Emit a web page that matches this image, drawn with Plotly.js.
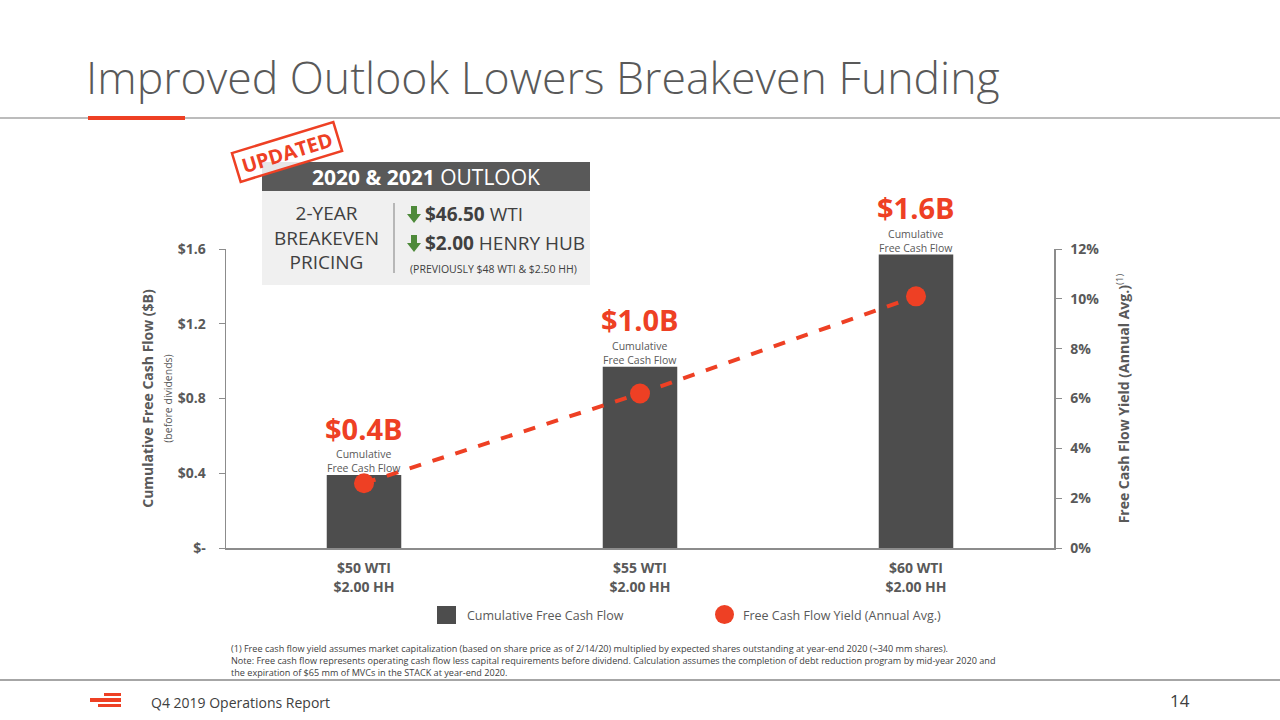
<!DOCTYPE html>
<html>
<head>
<meta charset="utf-8">
<script src="https://cdn.plot.ly/plotly-3.0.1.min.js"></script>
<style>
html,body{margin:0;padding:0;background:#fff;}
#chart{width:1280px;height:720px;}
</style>
</head>
<body>
<div id="chart"></div>
<script>
// ---- data ----
var categories = ['$50 WTI<br>$2.00 HH', '$55 WTI<br>$2.00 HH', '$60 WTI<br>$2.00 HH'];
var cumulativeFCF = [0.39, 0.97, 1.57];          // $B
var fcfYield = [2.6, 6.2, 10.1];                  // % annual avg
var barLabels = ['$0.4B', '$1.0B', '$1.6B'];
var leftTickVals = [0, 0.4, 0.8, 1.2, 1.6];
var leftTickText = ['$-', '$0.4', '$0.8', '$1.2', '$1.6'];
var rightTickVals = [0, 2, 4, 6, 8, 10, 12];
var rightTickText = ['0%', '2%', '4%', '6%', '8%', '10%', '12%'];

// ---- geometry helpers (pixel -> paper) ----
var L = 226, R = 1054, T = 249, B = 548;
function px(x){ return (x - L) / (R - L); }
function py(y){ return (B - y) / (B - T); }

var RED = '#EE4024', BAR = '#4D4D4D', GRAY = '#595959', GREEN = '#4E8A3A', FONT = 'Open Sans, Noto Sans, sans-serif';

var traces = [
  {
    type: 'bar', x: categories, y: cumulativeFCF, name: 'Cumulative Free Cash Flow',
    marker: {color: BAR}, yaxis: 'y', showlegend: false, hoverinfo: 'skip'
  },
  {
    type: 'scatter', mode: 'lines+markers', x: categories, y: fcfYield, yaxis: 'y2',
    name: 'Free Cash Flow Yield (Annual Avg.)',
    line: {color: RED, width: 4, dash: 'dash'},
    marker: {color: RED, size: 20}, showlegend: false, hoverinfo: 'skip'
  }
];

var annotations = [];
for (var i = 0; i < categories.length; i++) {
  annotations.push({
    x: categories[i], y: cumulativeFCF[i], xref: 'x', yref: 'y',
    text: '<b>' + barLabels[i] + '</b>', showarrow: false,
    yanchor: 'middle', yshift: 47, font: {family: FONT, size: 29, color: RED}
  });
  annotations.push({
    x: categories[i], y: cumulativeFCF[i], xref: 'x', yref: 'y',
    text: 'Cumulative<br>Free Cash Flow', showarrow: false,
    yanchor: 'middle', yshift: 14, font: {family: FONT, size: 10.5, color: GRAY}
  });
}

function pa(x, y, text, opts) {
  var a = {xref: 'paper', yref: 'paper', x: px(x), y: py(y), text: text, showarrow: false,
           xanchor: 'left', yanchor: 'middle', font: {family: FONT, size: 13, color: GRAY}};
  for (var k in opts) a[k] = opts[k];
  annotations.push(a);
}

// legend
pa(465, 615, 'Cumulative Free Cash Flow', {font: {family: FONT, size: 12.5, color: GRAY}});
pa(741, 615, 'Free Cash Flow Yield (Annual Avg.)', {font: {family: FONT, size: 12.5, color: GRAY}});

// outlook box text
pa(426, 177, '<b>2020 &amp; 2021</b> OUTLOOK', {xanchor: 'center', font: {family: FONT, size: 21, color: '#FFFFFF'}});
pa(326, 237, '2-YEAR<br>BREAKEVEN<br>PRICING', {xanchor: 'center', font: {family: FONT, size: 19, color: '#404040'}});
pa(423, 214, '<b>$46.50</b> WTI', {font: {family: FONT, size: 19, color: '#404040'}});
pa(423, 243, '<b>$2.00</b> HENRY HUB', {font: {family: FONT, size: 19, color: '#404040'}});
pa(408, 269, '(PREVIOUSLY $48 WTI &amp; $2.50 HH)', {font: {family: FONT, size: 10.5, color: '#404040'}});

// stamp text (border drawn as a rotated path shape below)
var STAMP_CX = 287, STAMP_CY = 152, STAMP_W = 106, STAMP_H = 30, STAMP_ANG = 17;
annotations.push({xref: 'paper', yref: 'paper', x: px(STAMP_CX), y: py(STAMP_CY), showarrow: false,
  text: 'UPDATED', textangle: -STAMP_ANG, font: {family: FONT, size: 20, color: RED, weight: 'bold'},
  xanchor: 'center', yanchor: 'middle'});

// footnotes
var fnFont = {family: FONT, size: 9.1, color: '#404040'};
pa(229, 648, '(1) Free cash flow yield assumes market capitalization (based on share price as of 2/14/20) multiplied by expected shares outstanding at year-end 2020 (~340 mm shares).', {font: fnFont});
pa(229, 660, 'Note: Free cash flow represents operating cash flow less capital requirements before dividend. Calculation assumes the completion of debt reduction program by mid-year 2020 and', {font: fnFont});
pa(229, 672, 'the expiration of $65 mm of MVCs in the STACK at year-end 2020.', {font: fnFont});

// footer
pa(149, 702, 'Q4 2019 Operations Report', {font: {family: FONT, size: 14, color: '#404040'}});
pa(1192, 700, '14', {xanchor: 'right', font: {family: FONT, size: 17, color: '#404040'}});

function toPath(pts) {
  return 'M' + pts.map(function (p) { return px(p[0]) + ',' + py(p[1]); }).join(' L') + ' Z';
}
function arrowPath(cx, top) {
  return toPath([[cx - 3, top], [cx + 3, top], [cx + 3, top + 8], [cx + 7, top + 8], [cx, top + 17],
                 [cx - 7, top + 8], [cx - 3, top + 8]]);
}
function stampPath() {
  var t = STAMP_ANG * Math.PI / 180, c = Math.cos(t), s = Math.sin(t);
  var hw = STAMP_W / 2, hh = STAMP_H / 2;
  var corners = [[-hw, -hh], [hw, -hh], [hw, hh], [-hw, hh]];
  return toPath(corners.map(function (p) {
    return [STAMP_CX + p[0] * c + p[1] * s, STAMP_CY - p[0] * s + p[1] * c];
  }));
}

var shapes = [
  // top rule
  {type: 'line', xref: 'paper', yref: 'paper', x0: px(0), x1: px(1280), y0: py(118), y1: py(118), line: {color: '#A6A6A6', width: 1.5}},
  {type: 'rect', xref: 'paper', yref: 'paper', x0: px(88), x1: px(185), y0: py(116), y1: py(120), fillcolor: RED, line: {width: 0}},
  // footer rule
  {type: 'line', xref: 'paper', yref: 'paper', x0: px(0), x1: px(1280), y0: py(680), y1: py(680), line: {color: '#A6A6A6', width: 2}},
  // logo stripes
  {type: 'rect', xref: 'paper', yref: 'paper', x0: px(104), x1: px(121), y0: py(693), y1: py(696), fillcolor: RED, line: {width: 0}},
  {type: 'rect', xref: 'paper', yref: 'paper', x0: px(90), x1: px(121), y0: py(698), y1: py(702), fillcolor: RED, line: {width: 0}},
  {type: 'rect', xref: 'paper', yref: 'paper', x0: px(98), x1: px(121), y0: py(704), y1: py(707), fillcolor: RED, line: {width: 0}},
  // outlook box
  {type: 'rect', xref: 'paper', yref: 'paper', x0: px(262), x1: px(590), y0: py(191), y1: py(285), fillcolor: '#F0F0F0', line: {width: 0}},
  {type: 'rect', xref: 'paper', yref: 'paper', x0: px(262), x1: px(590), y0: py(162), y1: py(191), fillcolor: '#595959', line: {width: 0}},
  {type: 'line', xref: 'paper', yref: 'paper', x0: px(394), x1: px(394), y0: py(203), y1: py(273), line: {color: '#7F7F7F', width: 1}},
  // stamp border
  {type: 'path', xref: 'paper', yref: 'paper', path: stampPath(), fillcolor: 'rgba(255,255,255,0.85)', line: {color: RED, width: 2.5}},
  // green down arrows
  {type: 'path', xref: 'paper', yref: 'paper', path: arrowPath(414, 206), fillcolor: GREEN, line: {width: 0}},
  {type: 'path', xref: 'paper', yref: 'paper', path: arrowPath(414, 235), fillcolor: GREEN, line: {width: 0}},
  // legend markers
  {type: 'rect', xref: 'paper', yref: 'paper', x0: px(437), x1: px(456), y0: py(606), y1: py(624), fillcolor: BAR, line: {width: 0}},
  {type: 'circle', xref: 'paper', yref: 'paper', x0: px(715), x1: px(734), y0: py(605), y1: py(624), fillcolor: RED, line: {width: 0}}
];

var layout = {
  width: 1280, height: 720,
  margin: {l: L, r: 1280 - R, t: T, b: 720 - B, pad: 0},
  paper_bgcolor: '#FFFFFF', plot_bgcolor: '#FFFFFF',
  showlegend: false,
  bargap: 0.73,
  title: {
    text: 'Improved Outlook Lowers Breakeven Funding',
    xref: 'container', yref: 'container', x: 86 / 1280, xanchor: 'left',
    y: 1 - 78 / 720, yanchor: 'middle',
    font: {family: 'Open Sans, sans-serif', size: 44.6, color: GRAY, weight: 300}
  },
  xaxis: {
    type: 'category', showline: true, linecolor: '#8C8C8C', linewidth: 1.5,
    ticks: '', showgrid: false, zeroline: false, ticklabelstandoff: 7,
    tickfont: {family: FONT, size: 14, color: GRAY, weight: 'bold'}
  },
  yaxis: {
    range: [0, 1.6], tickvals: leftTickVals, ticktext: leftTickText,
    showline: true, linecolor: '#8C8C8C', linewidth: 1.5,
    ticks: 'outside', ticklen: 6, tickcolor: '#8C8C8C', ticklabelstandoff: 10,
    showgrid: false, zeroline: false,
    tickfont: {family: FONT, size: 14, color: GRAY, weight: 'bold'},
    title: {text: '<b>Cumulative Free Cash Flow ($B)</b><br><span style="font-size:10.5px">(before dividends)</span>',
            standoff: 2, font: {family: FONT, size: 14, color: GRAY}}
  },
  yaxis2: {
    overlaying: 'y', side: 'right', range: [0, 12], tickvals: rightTickVals, ticktext: rightTickText,
    showline: true, linecolor: '#8C8C8C', linewidth: 1.5,
    ticks: 'outside', ticklen: 6, tickcolor: '#8C8C8C', ticklabelstandoff: 6,
    showgrid: false, zeroline: false,
    tickfont: {family: FONT, size: 14, color: GRAY, weight: 'bold'},
    title: {text: '<b>Free Cash Flow Yield (Annual Avg.)</b><sup>(1)</sup>', standoff: 21,
            font: {family: FONT, size: 14, color: GRAY}}
  },
  annotations: annotations,
  shapes: shapes
};

Plotly.newPlot('chart', traces, layout, {displayModeBar: false, staticPlot: true});
</script>
</body>
</html>
